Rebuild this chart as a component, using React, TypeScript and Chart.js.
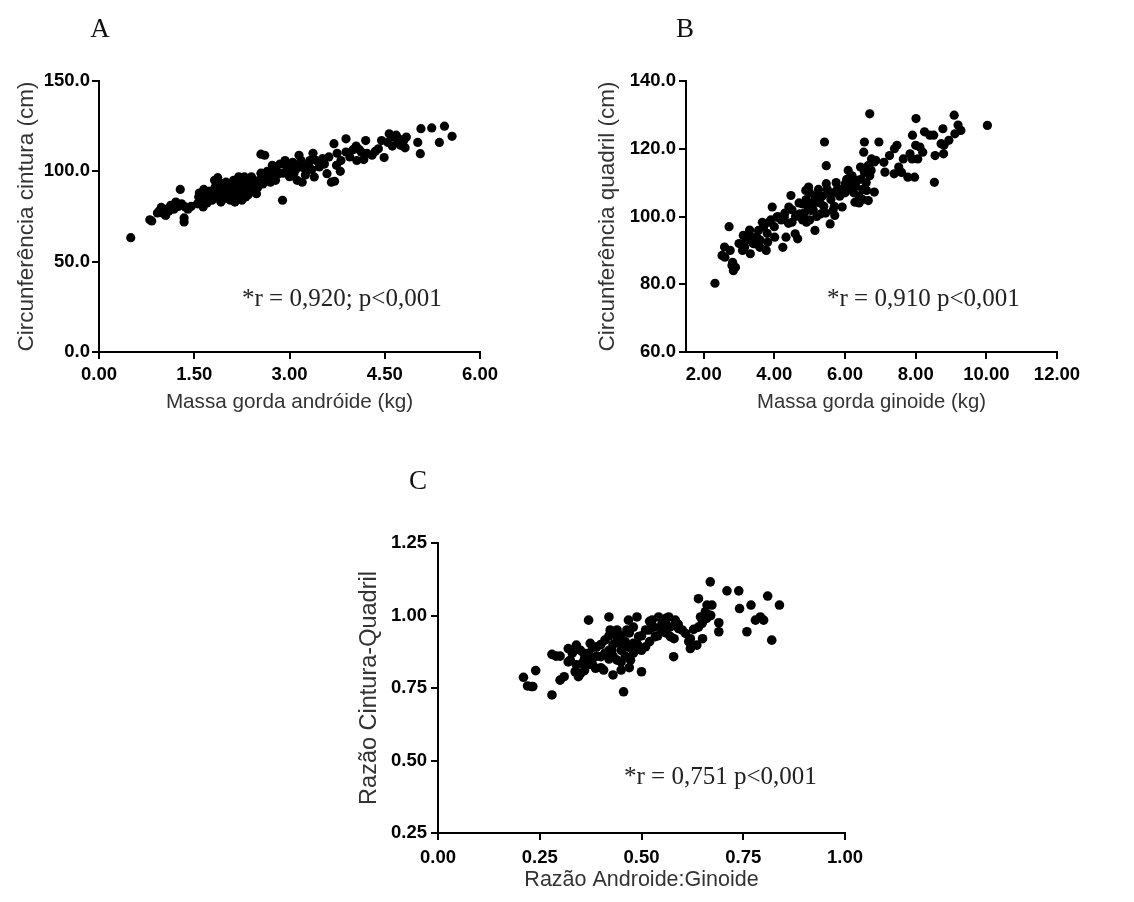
import React, { useEffect, useRef } from "react";
import { Chart, registerables } from "chart.js";

Chart.register(...registerables);

// ---------- Panel A: Massa gorda andróide (kg) vs Circunferência cintura (cm)
const A_X = [
  0.5, 0.8, 0.83, 0.92, 0.98, 1.05, 1.08, 1.13, 1.21, 1.25, 1.28, 1.34, 1.34, 1.36, 1.45,
  1.57, 1.64, 1.67, 1.7, 1.77, 1.83, 1.87, 1.89, 1.94, 1.97, 2.04, 2.09, 2.14, 2.19, 2.24,
  2.29, 2.31, 2.36, 2.43, 2.48, 2.61, 2.55, 2.63, 2.68, 2.73, 2.78, 2.83, 2.89, 2.93, 2.98,
  3.02, 3.07, 3.15, 3.17, 3.2, 3.27, 3.32, 3.37, 3.39, 3.47, 3.52, 3.59, 3.66, 3.71, 3.7,
  3.74, 3.81, 3.89, 3.89, 4.0, 4.06, 4.13, 4.17, 4.2, 4.3, 4.4, 4.45, 4.49, 4.57, 4.65,
  4.7, 4.75, 4.8, 4.84, 5.02, 5.07, 5.06, 5.24, 5.36, 5.44, 5.56,
  1.55, 1.58, 1.6, 1.62, 1.65, 1.7, 1.72, 1.75, 1.78, 1.8, 1.82, 1.85, 1.88, 1.9, 1.92,
  1.95, 1.98, 2.0, 2.02, 2.05, 2.07, 2.1, 2.12, 2.15, 2.18, 2.2, 2.22, 2.25, 2.27, 2.3,
  2.33, 2.35, 2.38, 2.4, 2.42, 2.45, 2.5, 2.52, 2.55, 2.58, 2.65, 2.7, 2.72, 2.75, 2.8,
  2.85, 2.9, 2.95, 3.0, 3.05, 3.1, 3.12, 3.18, 3.22, 3.25, 3.3, 3.35, 3.42, 3.55, 3.62,
  3.75, 3.8, 3.95, 4.05, 4.1, 4.22, 4.35, 4.55, 4.62, 4.68, 4.72, 4.78, 4.82, 0.95, 1.0,
  1.1, 1.18, 1.3, 1.4,
];
const A_Y = [
  63.3, 73.2, 72.5, 77, 80, 75.6, 79.3, 81.2, 83, 80.6, 90, 74.2, 72, 80.3, 80.6,
  85.8, 80.3, 84, 88.6, 86.7, 91.3, 96.5, 84.9, 93.2, 87.6, 89.5, 92.3, 83, 87.6, 93.2,
  96.9, 85.8, 90.4, 95, 87.6, 108.9, 109.5, 96, 98.7, 103.3, 95, 98.7, 84, 106, 100.6,
  103.3, 98.7, 108.9, 103.3, 94, 100.6, 106, 110, 96.9, 102.4, 107, 98.7, 94, 94.5, 115.3,
  103.3, 106, 118, 110.7, 112, 106, 110.7, 106.5, 117, 108.9, 112.5, 117, 107.6, 120.8, 119,
  116, 114.4, 117, 119, 116, 123.6, 109.8, 124, 116, 125, 119.4,
  82, 88, 84, 86, 90, 82.5, 86, 89, 84, 88, 95, 86, 92, 89, 83,
  91, 85, 94, 87, 92, 84, 89, 95, 86, 91, 97, 88, 84, 92, 89,
  94, 87, 92, 97, 89, 93, 91, 95, 99, 93, 100, 94, 97, 101, 100,
  104, 99, 103, 97, 105, 101, 95, 106, 102, 98, 104, 101, 106, 104, 108,
  110, 100, 108, 114, 112, 110, 111, 116, 114, 120, 118, 116, 113, 78, 77,
  78, 79, 82, 79,
];
const A_X_TICKS = [0, 1.5, 3, 4.5, 6];
const A_Y_TICKS = [0, 50, 100, 150];

// ---------- Panel B: Massa gorda ginoide (kg) vs Circunferência quadril (cm)
const B_X = [
  2.32, 2.52, 2.59, 2.72, 2.75, 2.82, 2.84, 2.8, 3.12, 3.16, 3.32, 3.29, 3.38, 3.47, 3.55,
  3.59, 3.66, 3.77, 3.81, 3.85, 3.94, 4.01, 4.07, 4.24, 4.28, 4.33, 4.41, 4.47, 4.5, 4.59,
  4.66, 4.72, 4.8, 4.89, 4.91, 4.97, 5.04, 5.15, 5.22, 5.32, 5.42, 5.47, 5.47, 5.53, 5.58,
  5.66, 5.71, 5.79, 5.92, 6.01, 6.09, 6.18, 6.28, 6.35, 6.44, 6.53, 6.55, 6.61, 6.66, 6.7,
  6.74, 6.83, 6.83, 6.87, 6.96, 7.13, 7.26, 7.39, 7.47, 7.52, 7.65, 7.78, 7.84, 7.91, 7.97,
  8.01, 8.06, 8.12, 8.25, 8.51, 8.53, 8.55, 8.72, 8.77, 8.79, 8.94, 9.09, 9.11, 9.28, 10.03,
  2.6, 2.9, 3.0, 3.1, 3.2, 3.3, 3.4, 3.5, 3.6, 3.7, 3.8, 3.9, 4.0, 4.1, 4.2,
  4.3, 4.4, 4.5, 4.6, 4.7, 4.8, 4.85, 4.9, 4.95, 5.0, 5.0, 5.05, 5.1, 5.15, 5.2,
  5.25, 5.3, 5.35, 5.4, 5.45, 5.5, 5.6, 5.65, 5.7, 5.75, 5.85, 5.9, 6.0, 6.05, 6.1,
  6.2, 6.25, 6.3, 6.4, 6.45, 6.5, 6.55, 6.6, 6.65, 6.7, 6.75, 6.5, 6.4, 7.1, 7.4,
  7.6, 7.9, 8.0, 8.2, 8.4, 8.8, 9.2,
];
const B_Y = [
  80.3, 88.5, 91, 97, 90, 86.5, 84, 85.5, 94.4, 91, 89, 94.9, 93.4, 91.9, 95.9,
  90.9, 98.3, 90, 92.4, 98.3, 102.8, 93.9, 99.8, 90.9, 99.8, 93.9, 102.8, 106.2, 98.3, 94.9,
  93.4, 100.8, 103.7, 107.7, 98.3, 108.7, 101.8, 95.9, 104.2, 100.8, 122, 115, 109.7, 106.7, 97.8,
  101.8, 100.3, 108.2, 102.8, 109.7, 113.6, 109.7, 104.2, 110.7, 114.6, 119, 122, 107.7, 104.7, 130.3,
  113.6, 116.1, 107.2, 116.6, 122, 113.1, 118, 112.6, 121, 114.6, 117, 111.6, 118.5, 124, 111.6,
  128.9, 117, 120.5, 125, 124, 110.1, 118, 121.5, 125.9, 118.5, 122.5, 129.9, 124.4, 125.4, 126.9,
  88, 85, 92, 90, 93, 96, 92, 94, 93, 97, 95, 99, 97, 100, 99,
  101, 98, 102, 100, 104, 99, 101, 105, 103, 107, 99, 104, 102, 106, 100,
  108, 104, 106, 103, 101, 108, 105, 107, 103, 110, 106, 108, 107, 111, 108,
  112, 107, 109, 106, 111, 108, 113, 110, 115, 112, 117, 105, 104, 116, 120,
  113, 117, 121, 119, 124, 121, 127,
];
const B_X_TICKS = [2, 4, 6, 8, 10, 12];
const B_Y_TICKS = [60, 80, 100, 120, 140];

// ---------- Panel C: Razão Androide:Ginoide vs Razão Cintura-Quadril
const C_X = [
  0.21, 0.22, 0.23, 0.233, 0.24, 0.28, 0.28, 0.29, 0.3, 0.31, 0.32, 0.325, 0.337, 0.34, 0.345,
  0.354, 0.358, 0.366, 0.37, 0.374, 0.378, 0.387, 0.39, 0.4, 0.407, 0.41, 0.42, 0.423, 0.427, 0.43,
  0.435, 0.44, 0.446, 0.45, 0.456, 0.46, 0.464, 0.468, 0.473, 0.48, 0.485, 0.489, 0.493, 0.5, 0.51,
  0.518, 0.526, 0.534, 0.542, 0.55, 0.559, 0.567, 0.571, 0.579, 0.583, 0.591, 0.608, 0.616, 0.62, 0.628,
  0.636, 0.64, 0.645, 0.649, 0.657, 0.661, 0.669, 0.669, 0.673, 0.69, 0.69, 0.71, 0.739, 0.741, 0.759,
  0.769, 0.78, 0.792, 0.8, 0.81, 0.82, 0.839,
  0.3, 0.32, 0.33, 0.34, 0.35, 0.36, 0.36, 0.37, 0.38, 0.38, 0.39, 0.4, 0.4, 0.41, 0.42,
  0.42, 0.43, 0.43, 0.44, 0.44, 0.45, 0.45, 0.46, 0.46, 0.47, 0.47, 0.48, 0.48, 0.49, 0.5,
  0.5, 0.51, 0.52, 0.53, 0.54, 0.55, 0.56, 0.57, 0.58, 0.59, 0.6, 0.62, 0.64, 0.65, 0.66,
  0.67, 0.45, 0.47, 0.35, 0.42, 0.52, 0.56,
];
const C_Y = [
  0.787, 0.757, 0.755, 0.755, 0.81, 0.866, 0.726, 0.86, 0.777, 0.789, 0.886, 0.846, 0.806, 0.898, 0.789,
  0.835, 0.87, 0.829, 0.984, 0.904, 0.846, 0.818, 0.892, 0.858, 0.812, 0.915, 0.995, 0.95, 0.88, 0.795,
  0.938, 0.846, 0.904, 0.812, 0.737, 0.892, 0.95, 0.984, 0.846, 0.904, 0.88, 0.995, 0.927, 0.806, 0.892,
  0.95, 0.984, 0.927, 0.995, 0.95, 0.973, 0.995, 0.927, 0.858, 0.984, 0.955, 0.938, 0.91, 0.886, 0.952,
  0.898, 1.058, 0.995, 0.973, 1.013, 1.036, 1.116, 1.001, 1.036, 0.975, 0.944, 1.085, 1.085, 1.024, 0.944,
  1.036, 0.984, 0.995, 0.984, 1.067, 0.915, 1.036,
  0.86, 0.84, 0.87, 0.83, 0.88, 0.85, 0.81, 0.87, 0.83, 0.89, 0.86, 0.9, 0.82, 0.87, 0.93,
  0.85, 0.9, 0.86, 0.92, 0.95, 0.88, 0.93, 0.86, 0.91, 0.89, 0.94, 0.87, 0.96, 0.9, 0.93,
  0.88, 0.95, 0.91, 0.96, 0.93, 0.97, 0.94, 0.96, 0.92, 0.97, 0.95, 0.92, 0.96, 0.92, 0.99,
  1.0, 0.84, 0.82, 0.8, 0.88, 0.98, 0.99,
];
const C_X_TICKS = [0, 0.25, 0.5, 0.75, 1];
const C_Y_TICKS = [0.25, 0.5, 0.75, 1, 1.25];

const SANS = "'Liberation Sans', Arial, sans-serif";
const SERIF = "'Liberation Serif', 'Times New Roman', serif";

type AxisOpts = {
  pos: "left" | "bottom";
  min: number;
  max: number;
  ticks: number[];
  dec: number;
  size: number;
  labelPad: number;
  title: string;
  titleSize: number;
  titlePad: number;
};

function axis(o: AxisOpts): any {
  return {
    type: "linear",
    position: o.pos,
    min: o.min,
    max: o.max,
    afterBuildTicks: (s: any) => {
      s.ticks = o.ticks.map((v) => ({ value: v }));
    },
    afterFit: (s: any) => {
      if (o.pos === "bottom") s.height = o.size;
      else s.width = o.size;
      s.paddingLeft = 0;
      s.paddingRight = 0;
      s.paddingTop = 0;
      s.paddingBottom = 0;
    },
    border: { display: true, color: "#000", width: 2 },
    grid: {
      display: true,
      drawOnChartArea: false,
      drawTicks: true,
      tickLength: 7,
      color: "#000",
      lineWidth: 2,
    },
    ticks: {
      color: "#000",
      font: { family: SANS, size: 18.5, weight: "bold" },
      padding: o.labelPad,
      autoSkip: false,
      maxRotation: 0,
      minRotation: 0,
      callback: (v: any) => Number(v).toFixed(o.dec),
    },
    title: {
      display: true,
      text: o.title,
      color: "#333",
      font: { family: SANS, size: o.titleSize },
      padding: { top: o.titlePad, bottom: o.titlePad },
    },
  };
}

type PanelCfg = {
  left: number;
  top: number;
  w: number;
  h: number;
  pad: { top: number; right: number };
  xs: number[];
  ys: number[];
  radius: number;
  x: AxisOpts;
  y: AxisOpts;
  letter: string;
  letterPos: [number, number];
  note: string;
  notePos: [number, number];
};

const PANELS: PanelCfg[] = [
  {
    left: 0, top: 0, w: 560, h: 420,
    pad: { top: 81, right: 80 },
    xs: A_X, ys: A_Y, radius: 4.6,
    x: { pos: "bottom", min: 0, max: 6, ticks: A_X_TICKS, dec: 2, size: 68, labelPad: 5, title: "Massa gorda andróide (kg)", titleSize: 20.7, titlePad: 5 },
    y: { pos: "left", min: 0, max: 150, ticks: A_Y_TICKS, dec: 1, size: 99, labelPad: 2, title: "Circunferência cintura (cm)", titleSize: 22.5, titlePad: 13 },
    letter: "A", letterPos: [100, 37],
    note: "*r = 0,920; p<0,001", notePos: [242, 306],
  },
  {
    left: 560, top: 0, w: 574, h: 420,
    pad: { top: 81, right: 77 },
    xs: B_X, ys: B_Y, radius: 4.6,
    x: { pos: "bottom", min: 1.5, max: 12, ticks: B_X_TICKS, dec: 2, size: 68, labelPad: 5, title: "Massa gorda ginoide (kg)", titleSize: 20.3, titlePad: 5 },
    y: { pos: "left", min: 60, max: 140, ticks: B_Y_TICKS, dec: 1, size: 126, labelPad: 3, title: "Circunferência quadril (cm)", titleSize: 22.5, titlePad: 34 },
    letter: "B", letterPos: [125, 37],
    note: "*r = 0,910 p<0,001", notePos: [267, 306],
  },
  {
    left: 330, top: 430, w: 600, h: 472,
    pad: { top: 113, right: 85 },
    xs: C_X, ys: C_Y, radius: 4.8,
    x: { pos: "bottom", min: 0, max: 1, ticks: C_X_TICKS, dec: 2, size: 69, labelPad: 7, title: "Razão Androide:Ginoide", titleSize: 21.5, titlePad: 9 },
    y: { pos: "left", min: 0.25, max: 1.25, ticks: C_Y_TICKS, dec: 2, size: 108, labelPad: 4, title: "Razão Cintura-Quadril", titleSize: 23.5, titlePad: 25 },
    letter: "C", letterPos: [88, 59],
    note: "*r = 0,751 p<0,001", notePos: [294, 354],
  },
];

function Panel({ cfg }: { cfg: PanelCfg }) {
  const ref = useRef<HTMLCanvasElement>(null);
  useEffect(() => {
    if (!ref.current) return;
    const extras = {
      id: "extras",
      afterDraw(chart: any) {
        const ctx = chart.ctx;
        ctx.save();
        ctx.fillStyle = "#111";
        ctx.textBaseline = "alphabetic";
        ctx.textAlign = "center";
        ctx.font = `27px ${SERIF}`;
        ctx.fillText(cfg.letter, cfg.letterPos[0], cfg.letterPos[1]);
        ctx.textAlign = "left";
        ctx.fillStyle = "#222";
        ctx.font = `25px ${SERIF}`;
        ctx.fillText(cfg.note, cfg.notePos[0], cfg.notePos[1]);
        ctx.restore();
      },
    };
    const chart = new Chart(ref.current, {
      type: "scatter",
      data: {
        datasets: [
          {
            data: cfg.xs.map((x, i) => ({ x, y: cfg.ys[i] })),
            backgroundColor: "#000",
            borderWidth: 0,
            pointRadius: cfg.radius,
            pointHoverRadius: cfg.radius,
          },
        ],
      },
      options: {
        animation: false,
        responsive: false,
        maintainAspectRatio: false,
        events: [],
        layout: { padding: { top: cfg.pad.top, right: cfg.pad.right, left: 0, bottom: 0 } },
        plugins: { legend: { display: false }, tooltip: { enabled: false }, title: { display: false } },
        scales: { x: axis(cfg.x), y: axis(cfg.y) },
      },
      plugins: [extras],
    } as any);
    return () => chart.destroy();
  }, [cfg]);
  return (
    <canvas
      ref={ref}
      width={cfg.w}
      height={cfg.h}
      style={{ position: "absolute", left: cfg.left, top: cfg.top, width: cfg.w, height: cfg.h }}
    />
  );
}

export default function App() {
  return (
    <div style={{ position: "absolute", left: 0, top: 0, width: 1134, height: 902, background: "#fff", overflow: "hidden" }}>
      {PANELS.map((p) => (
        <Panel key={p.letter} cfg={p} />
      ))}
    </div>
  );
}
